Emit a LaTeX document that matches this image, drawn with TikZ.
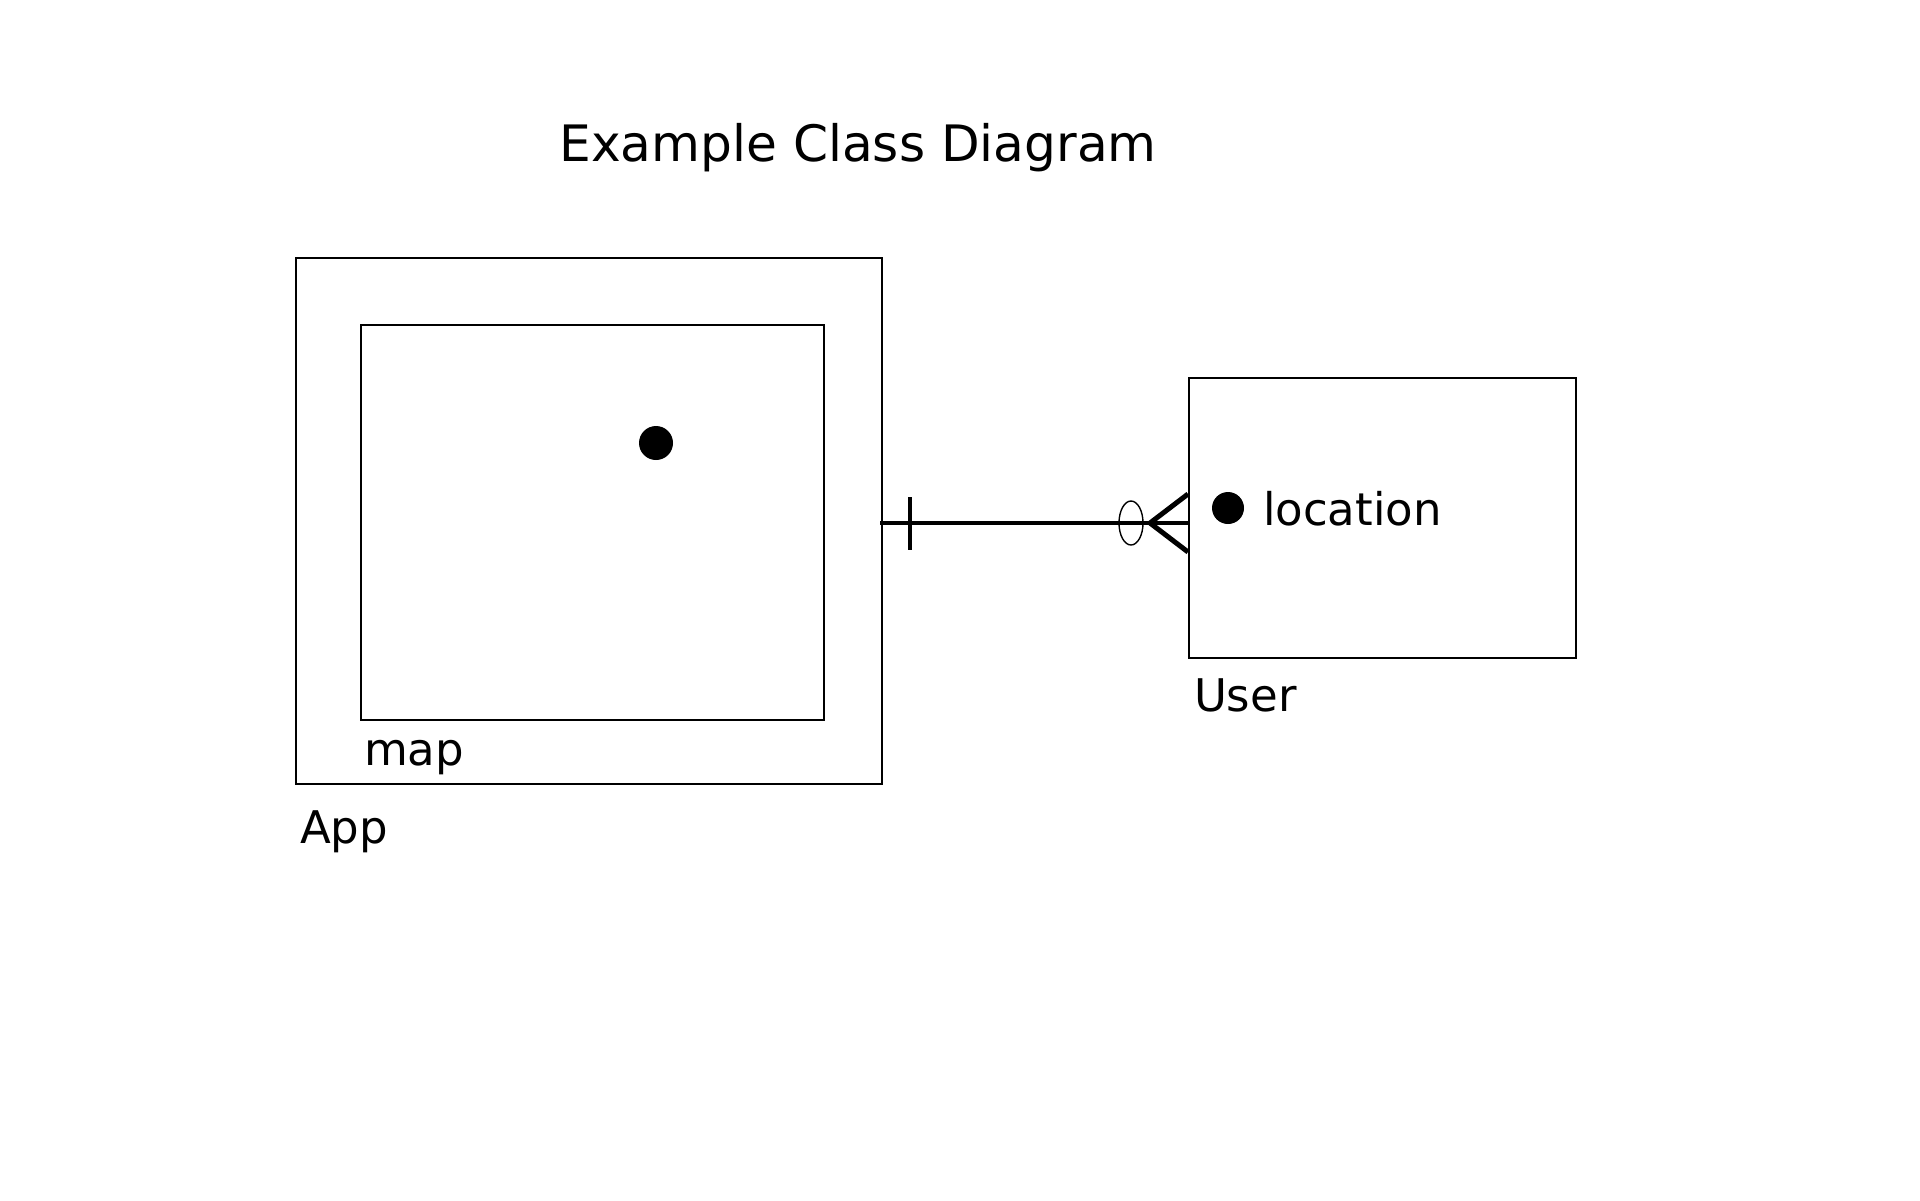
\documentclass[tikz,border=0pt]{standalone}
\usepackage{fontspec}
\setmainfont{DejaVu Sans}

\tikzset{every picture/.style={line width=1pt}}
\tikzset{
  classbox/.style={draw, inner sep=0pt},
  lbl/.style={anchor=base west, inner sep=0pt, font=\fontsize{22.5}{27}\selectfont},
  attdot/.style={circle, fill, draw=none, inner sep=0pt}
}

\begin{document}
\begin{tikzpicture}[x=0.5pt,y=0.5pt,yscale=-1]
\useasboundingbox (0,0) rectangle (1920,1200);

% Text Node
\node (title) at (858,161) [anchor=base, inner sep=0pt, font=\fontsize{25.1}{30}\selectfont] {Example Class Diagram};

%Shape: Rectangle [App]
\node (app) at (589,521) [classbox, minimum width=293pt, minimum height=263pt] {};
%Shape: Rectangle [map]
\node (map) at (592.5,522.5) [classbox, minimum width=231.5pt, minimum height=197.5pt] {};
%Shape: Circle
\node (mapdot) at (656,443) [attdot, minimum size=17pt] {};
%Shape: Rectangle [User]
\node (user) at (1382.5,518) [classbox, minimum width=193.5pt, minimum height=140pt] {};
%Shape: Circle
\node (locdot) at (1228,508) [attdot, minimum size=16pt] {};

% Text Node
\node (maplbl) at ([shift={(3,44)}]map.south west) [lbl] {map};
% Text Node
\node (applbl) at ([shift={(4,58)}]app.south west) [lbl] {App};
% Text Node
\node (userlbl) at ([shift={(5,52)}]user.south west) [lbl] {User};
% Text Node
\node (loclbl) at (1262,525) [lbl] {location};

%Straight Lines [one and only one -- zero or many]
\coordinate (aend) at ([shift={(-3,2)}]app.east);
\coordinate (uend) at (aend -| user.west);
\draw [line width=2pt] (aend) -- (uend);
\draw [line width=2pt] ([shift={(30,-26)}]aend) -- ([shift={(30,27)}]aend);
\draw [line width=0.7pt] ([shift={(-57,0)}]uend) ellipse [x radius=6pt, y radius=11pt];
\draw [line width=2.5pt] ([shift={(0,-29)}]uend) -- ([shift={(-38,0)}]uend) -- ([shift={(0,29)}]uend);

\end{tikzpicture}
\end{document}
